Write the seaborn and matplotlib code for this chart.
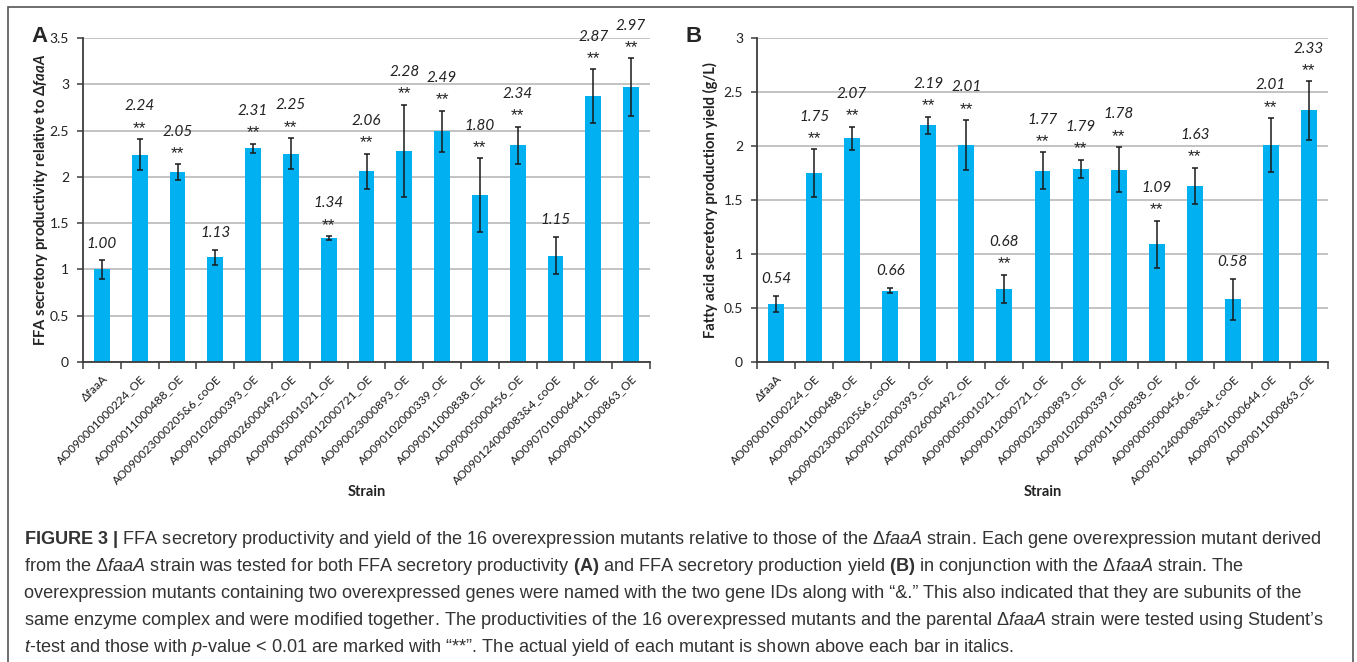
import matplotlib
matplotlib.use("Agg")
import matplotlib.pyplot as plt
import seaborn as sns
import pandas as pd
import numpy as np
from matplotlib.patches import Rectangle

sns.set_theme(style="white")
plt.rcParams['font.family'] = ['Lato', 'DejaVu Sans']
plt.rcParams['mathtext.fontset'] = 'custom'
plt.rcParams['mathtext.rm'] = 'Liberation Sans'
plt.rcParams['mathtext.it'] = 'Liberation Sans:italic'
plt.rcParams['mathtext.bf'] = 'Liberation Sans:bold'
plt.rcParams['mathtext.bfit'] = 'Lato:bold:italic'

strains = ["ΔfaaA", "AO090001000224_OE", "AO090011000488_OE", "AO090023000205&6_coOE",
           "AO090102000393_OE", "AO090026000492_OE", "AO090005001021_OE",
           "AO090012000721_OE", "AO090023000893_OE", "AO090102000339_OE",
           "AO090011000838_OE", "AO090005000456_OE", "AO090124000083&4_coOE",
           "AO090701000644_OE", "AO090011000863_OE"]
productivity = [1.00, 2.24, 2.05, 1.13, 2.31, 2.25, 1.34, 2.06, 2.28, 2.49, 1.80, 2.34, 1.15, 2.87, 2.97]
productivity_err = [0.10, 0.17, 0.085, 0.08, 0.05, 0.17, 0.02, 0.19, 0.50, 0.225, 0.40, 0.20, 0.20, 0.29, 0.31]
yield_gl = [0.54, 1.75, 2.07, 0.66, 2.19, 2.01, 0.68, 1.77, 1.79, 1.78, 1.09, 1.63, 0.58, 2.01, 2.33]
yield_err = [0.075, 0.22, 0.11, 0.025, 0.08, 0.23, 0.13, 0.17, 0.085, 0.21, 0.22, 0.17, 0.19, 0.25, 0.27]
significant = [False, True, True, False, True, True, True, True, True, True, True, True, False, True, True]

caption_lines = [
    r"$\mathbf{FIGURE\ 3\ |}$ FFA secretory productivity and yield of the 16 overexpression mutants relative to those of the Δ$\mathit{faaA}$ strain. Each gene overexpression mutant derived",
    r"from the Δ$\mathit{faaA}$ strain was tested for both FFA secretory productivity $\mathbf{(A)}$ and FFA secretory production yield $\mathbf{(B)}$ in conjunction with the Δ$\mathit{faaA}$ strain. The",
    r"overexpression mutants containing two overexpressed genes were named with the two gene IDs along with “&.” This also indicated that they are subunits of the",
    r"same enzyme complex and were modified together. The productivities of the 16 overexpressed mutants and the parental Δ$\mathit{faaA}$ strain were tested using Student’s",
    r"$\mathit{t}$-test and those with $\mathit{p}$-value < 0.01 are marked with “**”. The actual yield of each mutant is shown above each bar in italics.",
]

W, H = 1357, 662
fig = plt.figure(figsize=(W / 100, H / 100), dpi=100)

BAR = "#00B0F0"
GRID = "#b3b3b3"
SPINE = "#3c3c3c"


def px(x0, y0, x1, y1):
    return [x0 / W, 1 - y1 / H, (x1 - x0) / W, (y1 - y0) / H]


def panel(rect, values, errs, ymax, ylabel, letter, letter_x, ylabel_x):
    ax = fig.add_axes(rect)
    df = pd.DataFrame({"Strain": strains, "v": values})
    sns.barplot(data=df, x="Strain", y="v", color=BAR, width=0.42, saturation=1,
                errorbar=None, ax=ax, edgecolor="none")
    xs = np.arange(len(strains))
    ax.errorbar(xs, values, yerr=errs, fmt="none", ecolor="#1a1a1a", elinewidth=1.1,
                capsize=2.2, capthick=1.1, zorder=4)
    ax.set_xlim(-0.5, len(strains) - 0.5)
    ax.set_ylim(0, ymax)
    ticks = np.arange(0, ymax + 0.01, 0.5)
    ax.set_yticks(ticks)
    ax.set_yticklabels([f"{t:g}" for t in ticks], fontsize=10, color="#222222")
    ax.yaxis.grid(True, color=GRID, linewidth=1.1)
    ax.set_axisbelow(True)
    for s in ["top", "right"]:
        ax.spines[s].set_visible(False)
    for s in ["left", "bottom"]:
        ax.spines[s].set_color(SPINE)
        ax.spines[s].set_linewidth(1.3)
    ax.tick_params(axis="y", length=4, width=1.1, color=SPINE, pad=6, left=True)
    ax.set_xticks(xs)
    ax.set_xticklabels(strains, rotation=45, ha="right", rotation_mode="anchor",
                       fontsize=8.5, color="#1a1a1a")
    ax.tick_params(axis="x", which="major", length=0, pad=8)
    ax.set_xticks(np.arange(-0.5, len(strains)), minor=True)
    ax.tick_params(axis="x", which="minor", length=5, width=1.1, color=SPINE, bottom=True)
    ax.set_xlabel("Strain", fontsize=10.5, fontweight="bold", color="#222222")
    ax.xaxis.set_label_coords(0.5, -0.38)
    ax.set_ylabel(ylabel, fontsize=10.6, fontweight="bold", color="#222222")
    ax.yaxis.set_label_coords(ylabel_x, 0.5)
    for i, (v, e, sig) in enumerate(zip(values, errs, significant)):
        top = v + e
        if sig:
            ax.annotate("**", (i, top), xytext=(0, 4.5), textcoords="offset points",
                        ha="center", va="baseline", fontsize=12.5, color="#222222",
                        family="Liberation Sans")
            ax.annotate(f"{v:.2f}", (i, top), xytext=(0, 23.5), textcoords="offset points",
                        ha="center", va="center", fontsize=11, style="italic", color="#222222")
        else:
            ax.annotate(f"{v:.2f}", (i, top), xytext=(0, 12), textcoords="offset points",
                        ha="center", va="center", fontsize=11, style="italic", color="#222222")
    fig.text(letter_x / W, 1 - 37 / H, letter, fontsize=16, fontweight="bold",
             ha="center", va="center", family="Liberation Sans")
    return ax


panel(px(83, 38, 650, 362), productivity, productivity_err, 3.5,
      r"FFA secretory productivity relative to Δ$\mathbfit{faaA}$", "A", 40, -0.058)
panel(px(757, 38, 1328, 362), yield_gl, yield_err, 3.0,
      "Fatty acid secretory production yield (g/L)", "B", 694, -0.068)

# figure frame
fig.patches.append(Rectangle((8 / W, -0.05), (1353 - 8) / W, 1 - 7 / H + 0.05,
                             transform=fig.transFigure, fill=False,
                             edgecolor="#555555", linewidth=1.2))

for k, line in enumerate(caption_lines):
    fig.text(24 / W, 1 - (540 + 26.8 * k) / H, line, fontsize=13.05,
             family="Liberation Sans", color="#333333", ha="left", va="center")

fig.savefig("out.png", dpi=100)
